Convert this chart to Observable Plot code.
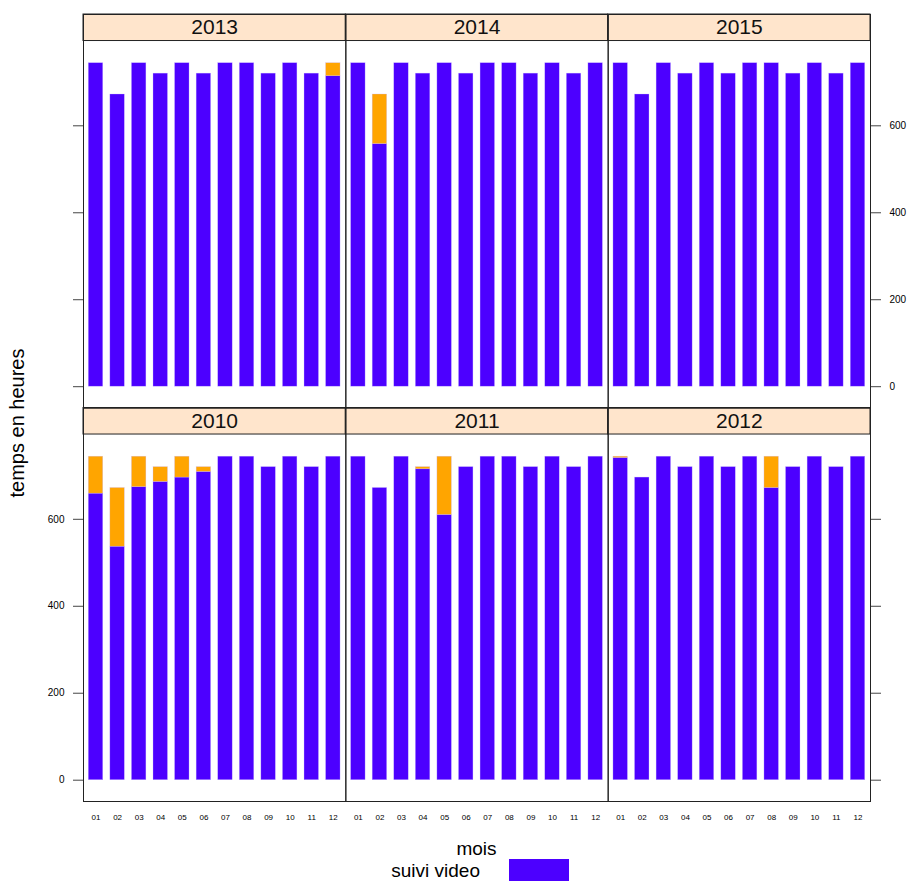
<!DOCTYPE html>
<html>
<head>
<meta charset="utf-8">
<script src="https://cdn.jsdelivr.net/npm/d3@7"></script>
<script src="https://cdn.jsdelivr.net/npm/@observablehq/plot@0.6"></script>
<style>
  body { margin: 0; background: #fff; font-family: "Liberation Sans", Arial, sans-serif; }
  #wrap { position: relative; width: 907px; height: 881px; overflow: hidden; }
  #wrap svg { position: absolute; left: 0; top: 0; }
  .lab { position: absolute; font-size: 19px; line-height: 17px; color: #000; white-space: nowrap; }
  .swatch { position: absolute; }
</style>
</head>
<body>
<div id="wrap"></div>
<script>
// ---- data ----
const months = ["01","02","03","04","05","06","07","08","09","10","11","12"];
const topRowYears = ["2013","2014","2015"];
const bottomRowYears = ["2010","2011","2012"];
const yTicks = [0, 200, 400, 600];
const seriesNames = ["suivi video", "non suivi"];
const seriesColors = ["#4C00FF", "#FFA500"];

const suivi2010  = [659, 537, 674, 686, 696, 709, 744, 744, 720, 744, 720, 744];
const absent2010 = [ 85, 135,  70,  34,  48,  11,   0,   0,   0,   0,   0,   0];
const suivi2011  = [744, 672, 744, 715, 610, 720, 744, 744, 720, 744, 720, 744];
const absent2011 = [  0,   0,   0,   5, 134,   0,   0,   0,   0,   0,   0,   0];
const suivi2012  = [741, 696, 744, 720, 744, 720, 744, 672, 720, 744, 720, 744];
const absent2012 = [  3,   0,   0,   0,   0,   0,   0,  72,   0,   0,   0,   0];
const suivi2013  = [744, 672, 744, 720, 744, 720, 744, 744, 720, 744, 720, 714];
const absent2013 = [  0,   0,   0,   0,   0,   0,   0,   0,   0,   0,   0,  30];
const suivi2014  = [744, 558, 744, 720, 744, 720, 744, 744, 720, 744, 720, 744];
const absent2014 = [  0, 114,   0,   0,   0,   0,   0,   0,   0,   0,   0,   0];
const suivi2015  = [744, 672, 744, 720, 744, 720, 744, 744, 720, 744, 720, 744];
const absent2015 = [  0,   0,   0,   0,   0,   0,   0,   0,   0,   0,   0,   0];

const byYear = {
  "2010": [suivi2010, absent2010], "2011": [suivi2011, absent2011],
  "2012": [suivi2012, absent2012], "2013": [suivi2013, absent2013],
  "2014": [suivi2014, absent2014], "2015": [suivi2015, absent2015]
};

// ---- layout ----
const yDomain = [-49, 856];
const stripLo = 795, stripHi = 856;

const panelOf = y => topRowYears.includes(y)
  ? {row: "top", col: topRowYears.indexOf(y)}
  : {row: "bottom", col: bottomRowYears.indexOf(y)};

const data = [];
for (const year of [...bottomRowYears, ...topRowYears]) {
  const p = panelOf(year);
  months.forEach((m, i) => {
    byYear[year].forEach((arr, s) => {
      data.push({year, month: m, type: seriesNames[s], value: arr[i], row: p.row, col: p.col});
    });
  });
}
const strips = [...topRowYears, ...bottomRowYears].map(year => ({year, ...panelOf(year)}));

const plot = Plot.plot({
  width: 907,
  height: 845,
  marginLeft: 83,
  marginRight: 37,
  marginTop: 14,
  marginBottom: 44,
  style: {fontFamily: "Liberation Sans, Arial, sans-serif", background: "transparent"},
  fx: {domain: [0, 1, 2], padding: 0, axis: null, round: false},
  fy: {domain: ["top", "bottom"], padding: 0, axis: null, round: false},
  x: {domain: months, paddingInner: 0.33, paddingOuter: 0.245, round: false},
  y: {domain: yDomain},
  color: {domain: seriesNames, range: seriesColors},
  marks: [
    Plot.rect(strips, {fx: "col", fy: "row", y1: () => stripLo, y2: () => stripHi, fill: "#FFE5CC", stroke: "#222", strokeWidth: 1}),
    Plot.text(strips, {fx: "col", fy: "row", y: () => (stripLo + stripHi) / 2, text: "year", fontSize: 21, fill: "#111", frameAnchor: "middle"}),
    Plot.barY(data, {fx: "col", fy: "row", x: "month", y: "value", fill: "type", order: seriesNames, stroke: "#C8B8FF", strokeWidth: 0.5, strokeOpacity: 0.6}),
    Plot.frame({stroke: "#222", strokeWidth: 1}),
    Plot.axisY({anchor: "left", facetAnchor: "bottom-left", ticks: yTicks, tickSize: 10, tickPadding: 9, fontSize: 10, label: null, stroke: "#444"}),
    Plot.axisY({anchor: "left", facetAnchor: "top-left", ticks: yTicks, tickSize: 10, tickFormat: () => "", label: null, stroke: "#444"}),
    Plot.axisY({anchor: "right", facetAnchor: "top-right", ticks: yTicks, tickSize: 10, tickPadding: 9, fontSize: 10, label: null, stroke: "#444"}),
    Plot.axisY({anchor: "right", facetAnchor: "bottom-right", ticks: yTicks, tickSize: 10, tickFormat: () => "", label: null, stroke: "#444"}),
    Plot.axisX({anchor: "bottom", facetAnchor: "bottom", tickSize: 0, tickPadding: 13, fontSize: 8, label: null})
  ]
});

const wrap = document.getElementById("wrap");
wrap.appendChild(plot);

// y axis title
d3.select(plot).append("text")
  .attr("transform", "translate(24,423) rotate(-90)")
  .attr("text-anchor", "middle")
  .attr("font-size", 20)
  .attr("fill", "#000")
  .text("temps en heures");

// x axis title and legend (below the SVG)
const mois = document.createElement("div");
mois.className = "lab";
mois.textContent = "mois";
mois.style.top = "840px";
mois.style.left = "0px";
mois.style.width = "953px";
mois.style.textAlign = "center";
wrap.appendChild(mois);

const leg = document.createElement("div");
leg.className = "lab";
leg.textContent = seriesNames[0];
leg.style.top = "862px";
leg.style.right = (907 - 480) + "px";
wrap.appendChild(leg);

const sw = document.createElement("div");
sw.className = "swatch";
sw.style.left = "509px";
sw.style.top = "859px";
sw.style.width = "60px";
sw.style.height = "30px";
sw.style.background = seriesColors[0];
wrap.appendChild(sw);
</script>
</body>
</html>
